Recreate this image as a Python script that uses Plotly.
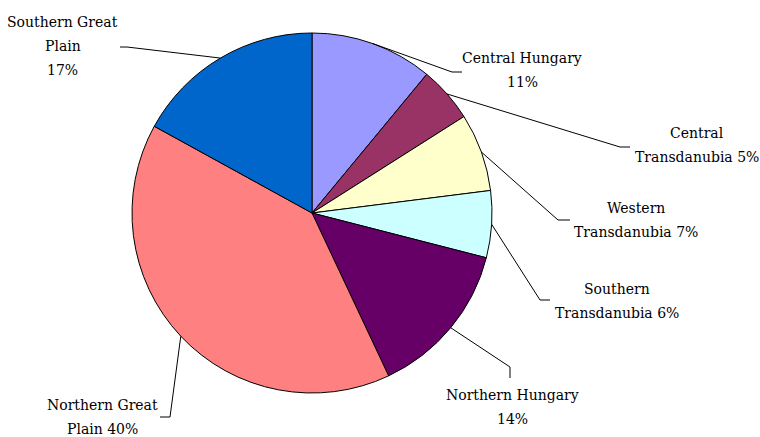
import math
import plotly.graph_objects as go

# ---- data ----
regions = ["Central Hungary", "Central Transdanubia", "Western Transdanubia",
           "Southern Transdanubia", "Northern Hungary", "Northern Great Plain",
           "Southern Great Plain"]
shares = [11, 5, 7, 6, 14, 40, 17]
colors = ["#9999FF", "#993366", "#FFFFCC", "#CCFFFF", "#660066", "#FF8080", "#0066CC"]
# how each label text is broken into lines
label_lines = [
    ["Central Hungary", "{p}%"],
    ["Central", "Transdanubia {p}%"],
    ["Western", "Transdanubia {p}%"],
    ["Southern", "Transdanubia {p}%"],
    ["Northern Hungary", "{p}%"],
    ["Northern Great", "Plain {p}%"],
    ["Southern Great", "Plain", "{p}%"],
]

# ---- layout (pixels) ----
W, H = 760, 437
cx, cy, R = 312, 213, 180
# label placement: (elbow x, elbow y, end x, end y, text x, text centre y)
label_pos = [
    (452, 72, 462, 72, 522, 70),
    (620, 147, 630, 147, 697, 145),
    (558, 220, 570, 220, 636, 220),
    (540, 300, 550, 300, 617, 301),
    (510, 367, 510, 378, 512, 407),
    (170, 417, 160, 417, 102, 417),
    (127, 47, 120, 47, 63, 46),
]
LINE_H = 24
FONT = "DejaVu Serif"
FS = 14


def px(x):
    return x / W


def py(y):
    return 1 - y / H


fig = go.Figure(go.Pie(
    labels=regions, values=shares, sort=False, direction="clockwise", rotation=0,
    marker=dict(colors=colors, line=dict(color="black", width=1)),
    textinfo="none", hoverinfo="label+percent", showlegend=False,
    domain=dict(x=[px(cx - R), px(cx + R)], y=[py(cy + R), py(cy - R)]),
))

total = sum(shares)
cum = 0
shapes, annotations = [], []
for name, v, lines, pos in zip(regions, shares, label_lines, label_pos):
    mid = (cum + v / 2) / total * 2 * math.pi
    cum += v
    sx = cx + R * math.sin(mid)
    sy = cy - R * math.cos(mid)
    ex, ey, fx, fy, tx, ty = pos
    shapes.append(dict(type="path", xref="paper", yref="paper",
                       path=f"M {px(sx)} {py(sy)} L {px(ex)} {py(ey)} L {px(fx)} {py(fy)}",
                       line=dict(color="black", width=1)))
    pct = round(v / total * 100)
    n = len(lines)
    for i, l in enumerate(lines):
        ly = ty + (i - (n - 1) / 2) * LINE_H
        annotations.append(dict(x=px(tx), y=py(ly), xref="paper", yref="paper",
                                text=l.format(p=pct), showarrow=False,
                                xanchor="center", yanchor="middle",
                                font=dict(family=FONT, size=FS, color="black")))

fig.update_layout(
    width=W, height=H, margin=dict(l=0, r=0, t=0, b=0),
    paper_bgcolor="white", plot_bgcolor="white",
    font=dict(family=FONT),
    shapes=shapes, annotations=annotations,
)
fig.write_html("out.html", config={"displayModeBar": False},
               post_script="document.body.style.margin='0';")
